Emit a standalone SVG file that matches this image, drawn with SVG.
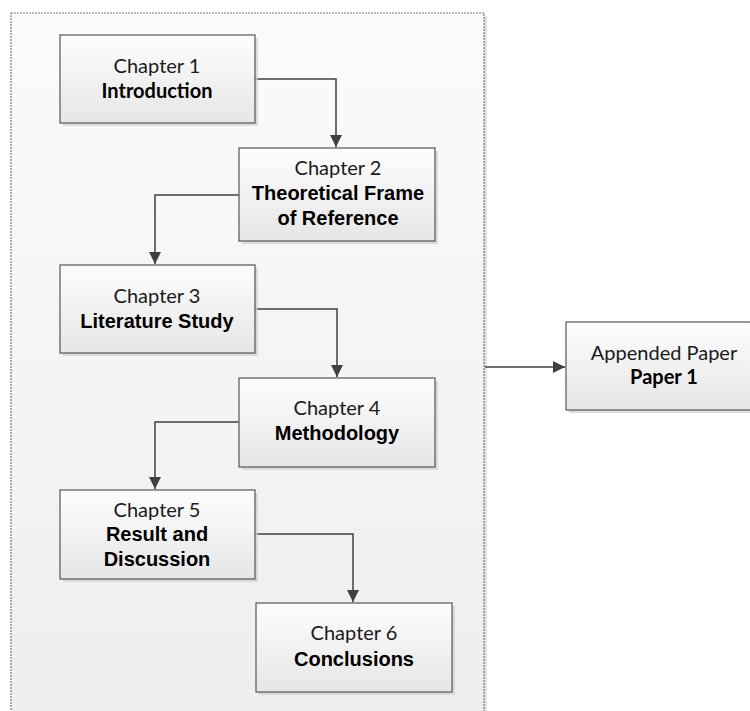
<svg xmlns="http://www.w3.org/2000/svg" width="750" height="711" viewBox="0 0 750 711">
  <style>
    .frame { fill: url(#frameFill); stroke: #7a7a7a; stroke-width: 1.2; stroke-dasharray: 2 1; }
    .box { fill: url(#boxFill); stroke: #555555; stroke-width: 1.2; }
    .shadow { fill: #cfcfcf; opacity: 0.7; }
    .head { font-family: Lato, "Open Sans", sans-serif; font-size: 20px; fill: #1a1a1a; text-anchor: middle; }
    .title { font-family: "Liberation Sans", Arial, sans-serif; font-size: 20px; font-weight: bold; fill: #000; text-anchor: middle; }
    .titleb { font-family: Lato, "Open Sans", sans-serif; font-size: 20px; font-weight: bold; fill: #000; text-anchor: middle; }
    .link { fill: none; stroke: #404040; stroke-width: 1.5; }
  </style>
  <defs>
    <linearGradient id="frameFill" x1="0" y1="0" x2="0" y2="1">
      <stop offset="0" stop-color="#fbfbfb"/>
      <stop offset="1" stop-color="#eeeeee"/>
    </linearGradient>
    <linearGradient id="boxFill" x1="0" y1="0" x2="0" y2="1">
      <stop offset="0" stop-color="#fdfdfd"/>
      <stop offset="1" stop-color="#e6e6e6"/>
    </linearGradient>
    <marker id="arrowL" viewBox="0 0 10 10" refX="10" refY="5" markerWidth="12" markerHeight="12" markerUnits="userSpaceOnUse" orient="auto">
      <path d="M0,0 L10,5 L0,10 z" fill="#404040"/>
    </marker>
  </defs>

  <rect width="750" height="711" fill="#ffffff"/>

  <!-- chapter container -->
  <g id="thesis">
    <rect x="14" y="16" width="473" height="700" fill="#e2e2e2"/>
    <rect class="frame" x="11" y="13" width="473" height="705"/>
  </g>

  <!-- connectors -->
  <g id="connectors">
    <path class="link" d="M255,79 H336 V147" marker-end="url(#arrowL)"/>
    <path class="link" d="M239,195 H155 V264" marker-end="url(#arrowL)"/>
    <path class="link" d="M255,309 H337 V377" marker-end="url(#arrowL)"/>
    <path class="link" d="M239,422 H155 V489" marker-end="url(#arrowL)"/>
    <path class="link" d="M255,534 H353 V602" marker-end="url(#arrowL)"/>
    <path class="link" d="M485,367 H565" marker-end="url(#arrowL)"/>
  </g>

  <g id="chapter1">
    <rect class="shadow" x="63" y="38" width="195" height="88"/>
    <rect class="box" x="60" y="35" width="195" height="88"/>
    <text class="head" x="157" y="73">Chapter 1</text>
    <text class="titleb" x="157" y="98">Introduction</text>
  </g>

  <g id="chapter2">
    <rect class="shadow" x="242" y="151" width="196" height="93"/>
    <rect class="box" x="239" y="148" width="196" height="93"/>
    <text class="head" x="338" y="175">Chapter 2</text>
    <text class="title" x="338" y="200">Theoretical Frame</text>
    <text class="title" x="338" y="225">of Reference</text>
  </g>

  <g id="chapter3">
    <rect class="shadow" x="63" y="268" width="195" height="88"/>
    <rect class="box" x="60" y="265" width="195" height="88"/>
    <text class="head" x="157" y="303">Chapter 3</text>
    <text class="title" x="157" y="328">Literature Study</text>
  </g>

  <g id="chapter4">
    <rect class="shadow" x="242" y="381" width="196" height="89"/>
    <rect class="box" x="239" y="378" width="196" height="89"/>
    <text class="head" x="337" y="415">Chapter 4</text>
    <text class="title" x="337" y="440">Methodology</text>
  </g>

  <g id="chapter5">
    <rect class="shadow" x="63" y="493" width="195" height="89"/>
    <rect class="box" x="60" y="490" width="195" height="89"/>
    <text class="head" x="157" y="517">Chapter 5</text>
    <text class="title" x="157" y="541">Result and</text>
    <text class="title" x="157" y="566">Discussion</text>
  </g>

  <g id="chapter6">
    <rect class="shadow" x="259" y="606" width="196" height="89"/>
    <rect class="box" x="256" y="603" width="196" height="89"/>
    <text class="head" x="354" y="640">Chapter 6</text>
    <text class="title" x="354" y="666">Conclusions</text>
  </g>

  <g id="appended">
    <rect class="shadow" x="569" y="325" width="196" height="88"/>
    <rect class="box" x="566" y="322" width="196" height="88"/>
    <text class="head" x="664" y="360">Appended Paper</text>
    <text class="titleb" x="664" y="384">Paper 1</text>
  </g>
</svg>
